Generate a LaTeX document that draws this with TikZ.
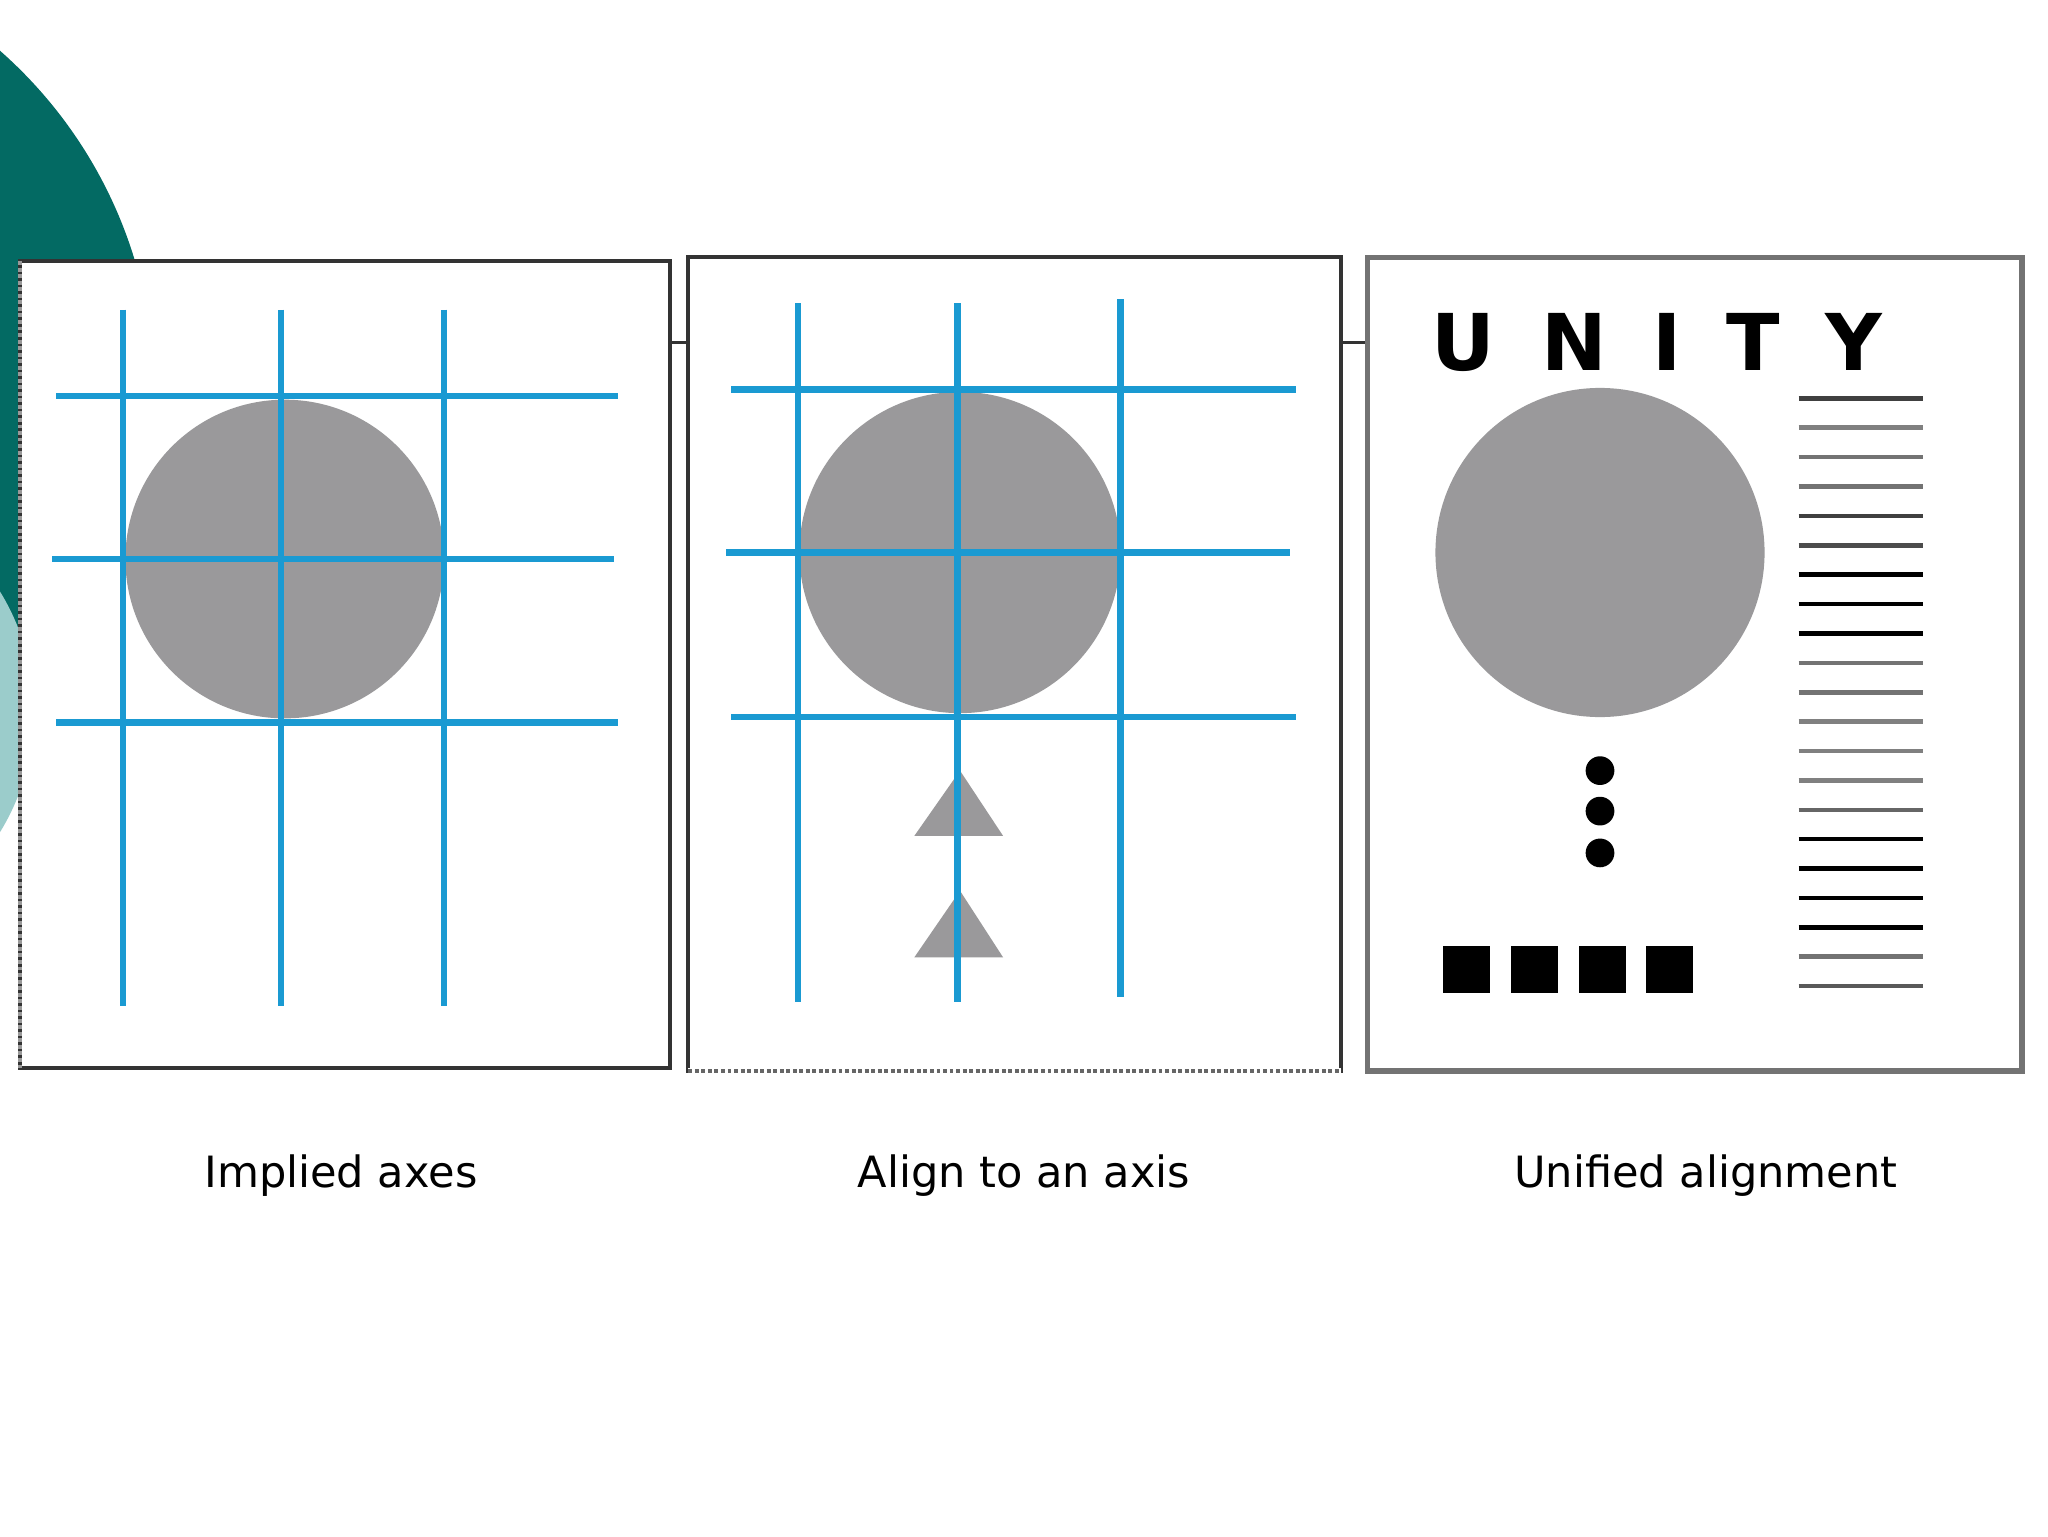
\documentclass[tikz,border=0pt]{standalone}
\usepackage{fontspec}
\setmainfont{DejaVu Sans}
\definecolor{teald}{HTML}{036A63}
\definecolor{teall}{HTML}{9BCCCB}
\definecolor{axb}{HTML}{1A9AD2}
\definecolor{shp}{HTML}{9A999B}
\tikzset{ax/.style={axb,line width=5pt},
 panel/.style={draw=black!80,line width=3pt,fill=white},
 lbl/.style={font=\fontsize{33}{38}\selectfont},
 ut/.style={font=\fontsize{60}{66}\selectfont\bfseries},
 rl/.style={line width=3.5pt}}
\begin{document}
\begin{tikzpicture}[x=1pt,y=-1pt]
\useasboundingbox (0,0) rectangle (1568,1176);
\fill[white] (0,0) rectangle (1568,1176);
\begin{scope}
\clip (0,0) rectangle (1568,1176);
\fill[teald] (-230,300) circle (348pt);
\fill[teall] (-150,545) circle (176pt);
\end{scope}
\draw[black!80,line width=2pt] (513,262) -- (527,262) (1027,262) -- (1047,262);
% panel 1
\node[panel,minimum width=498pt,minimum height=618pt,inner sep=0pt] (p1) at (264,509) {};
\draw[black!40,line width=3pt,dotted] (15,200) -- (15,818);
\fill[shp] (218,428) circle (122pt);
\foreach \x in {94,215,340} \draw[ax] (\x,237) -- (\x,770);
\draw[ax] (43,303) -- (473,303) (40,428) -- (470,428) (43,553) -- (473,553);
% panel 2
\node[panel,minimum width=500pt,minimum height=623pt,inner sep=0pt] (p2) at (777,508.5) {};
\draw[white,line width=4pt] (527,820) -- (1027,820);
\draw[black!60,line width=3pt,dotted] (527,820) -- (1027,820);
\fill[shp] (735,423) circle (123pt);
\fill[shp] (735,590) -- (768,640) -- (700,640) -- cycle;
\fill[shp] (735,682) -- (768,733) -- (700,733) -- cycle;
\draw[ax] (611,232) -- (611,767) (733,232) -- (733,767) (858,229) -- (858,763);
\draw[ax] (560,298) -- (992,298) (556,423) -- (988,423) (560,549) -- (992,549);
% panel 3
\node[panel,draw=black!55,line width=4pt,minimum width=501pt,minimum height=623pt,inner sep=0pt] (p3) at (1297.5,508.5) {};
\foreach \l/\x in {U/1120,N/1205,I/1276,T/1342,Y/1419} \node[ut] (u\l) at (\x,262) {\l};
\fill[shp] (1225,423) circle (126pt);
\foreach \y in {590,621,653} \fill[black] (1225,\y) circle (11pt);
\foreach \x in {1105,1157,1209,1260} \fill[black] (\x,724) rectangle ++(36,36);
\foreach \i/\c in {0/black!75,1/black!50,2/black!55,3/black!55,4/black!75,5/black!70,6/black,7/black,8/black,9/black!55,10/black!55,11/black!50,12/black!50,13/black!50,14/black!60,15/black,16/black,17/black,18/black,19/black!55,20/black!65}
  \draw[rl,\c] (1377,305+22.5*\i) -- (1472,305+22.5*\i);
% labels
\node[lbl] (l1) at (261,900) {Implied axes};
\node[lbl] (l2) at (784,900) {Align to an axis};
\node[lbl] (l3) at (1306,900) {Unified alignment};
\end{tikzpicture}
\end{document}
